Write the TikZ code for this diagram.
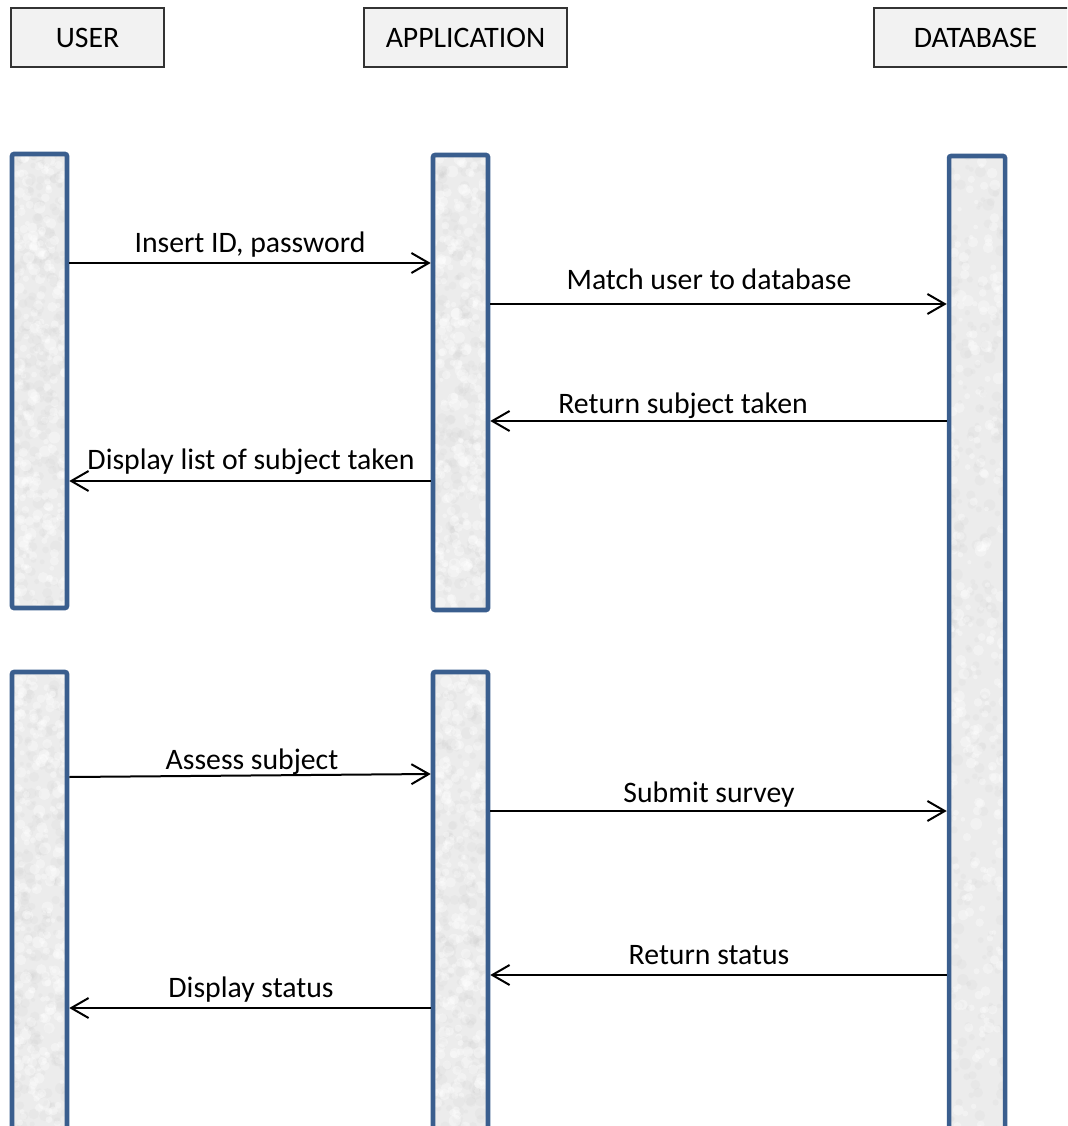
\documentclass[tikz,border=0pt]{standalone}
\usepackage{fontspec}
\setmainfont{Carlito}
\usetikzlibrary{arrows.meta,fit}

\definecolor{barblue}{RGB}{58,94,142}
\definecolor{headfill}{RGB}{242,242,242}
\definecolor{barfill}{RGB}{236,236,236}

\tikzset{
  head/.style={draw=black!80, line width=0.9pt, fill=headfill,
    minimum height=44.25pt, inner sep=0pt, font=\fontsize{22.3}{26}\selectfont},
  bar/.style={draw=barblue, line width=3.4pt, rounded corners=1.5pt, inner sep=0pt},
  msg/.style={draw=black, line width=1.5pt,
    -{Straight Barb[length=13pt,width=15pt,line width=1.5pt]}},
  lbl/.style={anchor=base, inner sep=0pt, font=\fontsize{22.3}{26}\selectfont}
}

% soft speckled paper texture inside a lifeline bar
\newcommand\barspeckle[4]{%
  \begin{scope}
    \clip (#1,#2) rectangle (#3,#4);
    \fill[barfill] (#1,#2) rectangle (#3,#4);
    \foreach \i in {1,...,520} {
      \pgfmathsetmacro\px{#1+rnd*(#3-#1)}
      \pgfmathsetmacro\py{#2+rnd*(#4-#2)}
      \pgfmathsetmacro\rr{2+4*rnd}
      \ifodd\i
        \fill[black!35, opacity=0.06] (\px,\py) circle (\rr);
      \else
        \fill[white, opacity=0.35] (\px,\py) circle (\rr);
      \fi
    }
  \end{scope}}

\begin{document}
\begin{tikzpicture}[x=0.75pt, y=-0.75pt]
  \useasboundingbox (0,0) rectangle (1067,1126);
  \clip (0,0) rectangle (1067,1126);
  \pgfmathsetseed{11}

  % header boxes
  \node[head, minimum width=114.75pt] (user) at (87.5,37.5) {USER};
  \node[head, minimum width=152.25pt] (app)  at (465.5,37.5) {APPLICATION};
  \node[head, minimum width=152.25pt] (db)   at (975.5,37.5) {DATABASE};

  % bar textures
  \barspeckle{12}{154}{67}{608}
  \barspeckle{433}{155}{488}{610}
  \barspeckle{949}{156}{1005}{1140}
  \barspeckle{12}{672}{67}{1140}
  \barspeckle{433}{672}{488}{1140}

  % lifeline bars
  \node[bar, fit={(12,154) (67,608)}]   (u1) {};
  \node[bar, fit={(433,155) (488,610)}] (a1) {};
  \node[bar, fit={(949,156) (1005,1140)}] (d1) {};
  \node[bar, fit={(12,672) (67,1140)}]  (u2) {};
  \node[bar, fit={(433,672) (488,1140)}] (a2) {};

  % messages: login
  \draw[msg] (u1.east |- 0,263) -- (a1.west |- 0,263);
  \node[lbl] (m1) at (250,253) {Insert ID, password};
  \draw[msg] (a1.east |- 0,304) -- (d1.west |- 0,304);
  \node[lbl] (m2) at (709,290) {Match user to database};
  \draw[msg] (d1.west |- 0,421) -- (a1.east |- 0,421);
  \node[lbl] (m3) at (683,413) {Return subject taken};
  \draw[msg] (a1.west |- 0,481) -- (u1.east |- 0,481);
  \node[lbl] (m4) at (251,469) {Display list of subject taken};

  % messages: survey
  \draw[msg] (u2.east |- 0,777) -- (a2.west |- 0,774);
  \node[lbl] (m5) at (252,769) {Assess subject};
  \draw[msg] (a2.east |- 0,811) -- (d1.west |- 0,811);
  \node[lbl] (m6) at (709,802) {Submit survey};
  \draw[msg] (d1.west |- 0,975) -- (a2.east |- 0,975);
  \node[lbl] (m7) at (709,964) {Return status};
  \draw[msg] (a2.west |- 0,1008) -- (u2.east |- 0,1008);
  \node[lbl] (m8) at (251,997) {Display status};
\end{tikzpicture}
\end{document}
